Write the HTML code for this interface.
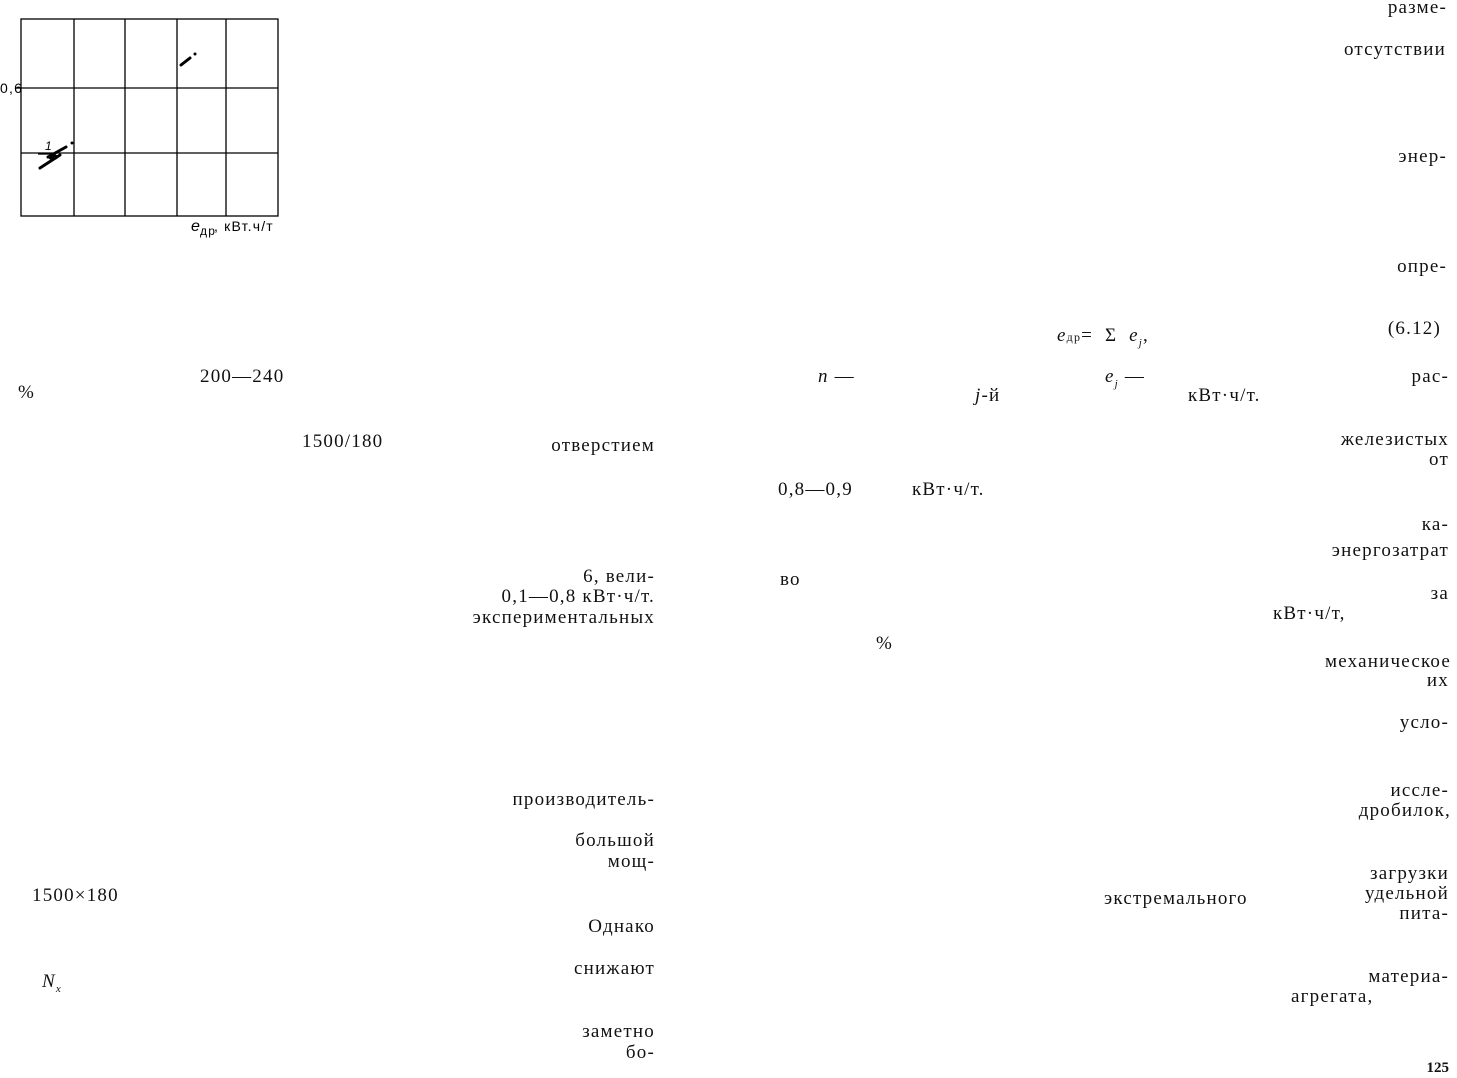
<!DOCTYPE html>
<html><head><meta charset="utf-8"><style>
html,body{margin:0;padding:0;background:#fff;}
body{width:1457px;height:1077px;position:relative;overflow:hidden;font-family:"Liberation Serif",serif;font-size:19px;letter-spacing:1.2px;color:#111;}
.t{position:absolute;white-space:nowrap;line-height:20px;}
.r{position:absolute;white-space:nowrap;line-height:20px;text-align:right;}
i{font-style:italic;}
</style></head><body>
<svg style="position:absolute;left:0;top:0" width="300" height="240">
<g stroke="#000" stroke-width="1.3" fill="none">
<rect x="21" y="19" width="257" height="197"/>
<line x1="74" y1="19" x2="74" y2="216"/><line x1="125" y1="19" x2="125" y2="216"/>
<line x1="177" y1="19" x2="177" y2="216"/><line x1="226" y1="19" x2="226" y2="216"/>
<line x1="21" y1="88" x2="278" y2="88"/><line x1="21" y1="153" x2="278" y2="153"/>
<line x1="15" y1="88" x2="21" y2="88"/>
</g>
<g stroke="#000" stroke-width="3" stroke-linecap="round">
<line x1="181" y1="65" x2="190" y2="58"/>
<line x1="40" y1="168" x2="60" y2="155"/>
<line x1="48" y1="157" x2="66" y2="147"/>
</g>
<circle cx="195" cy="54" r="1.5"/><circle cx="72" cy="143" r="1.5"/>
<ellipse cx="53" cy="157" rx="5" ry="3"/>
<line x1="38" y1="154" x2="52" y2="154" stroke="#000" stroke-width="1.3"/>
<text x="45" y="150" font-size="12" font-style="italic" font-family="Liberation Sans">1</text>
<text x="0" y="93" font-size="14" font-family="Liberation Sans">0,6</text>
<text x="191" y="231" font-size="16" font-style="italic" font-family="Liberation Sans">e</text>
<text x="200" y="235" font-size="12" font-family="Liberation Sans">др</text>
<text x="214" y="231" font-size="14" font-family="Liberation Sans">, кВт.ч/т</text>
</svg>

<div class="r" style="right:10px;top:-2px">разме-</div>
<div class="r" style="right:11px;top:40px">отсутствии</div>
<div class="r" style="right:10px;top:147px">энер-</div>
<div class="r" style="right:10px;top:257px">опре-</div>
<div class="r" style="right:16px;top:319px">(6.12)</div>
<div class="t" style="left:1057px;top:326px"><i>e</i><span style="font-size:12px">др</span>= &nbsp;Σ &nbsp;<i>e<sub style="font-size:11px">j</sub></i>,</div>
<div class="t" style="left:818px;top:367px"><i>n</i> —</div>
<div class="t" style="left:1105px;top:367px"><i>e<sub style="font-size:11px">j</sub></i> —</div>
<div class="r" style="right:8px;top:367px">рас-</div>
<div class="t" style="left:975px;top:386px"><i>j</i>-й</div>
<div class="t" style="left:1188px;top:386px">кВт·ч/т.</div>
<div class="r" style="right:8px;top:430px">железистых</div>
<div class="r" style="right:8px;top:450px">от</div>
<div class="t" style="left:778px;top:480px">0,8—0,9</div>
<div class="t" style="left:912px;top:480px">кВт·ч/т.</div>
<div class="r" style="right:8px;top:515px">ка-</div>
<div class="r" style="right:8px;top:541px">энергозатрат</div>
<div class="t" style="left:780px;top:570px">во</div>
<div class="r" style="right:8px;top:584px">за</div>
<div class="t" style="left:1273px;top:604px">кВт·ч/т,</div>
<div class="t" style="left:876px;top:634px">%</div>
<div class="r" style="right:6px;top:652px">механическое</div>
<div class="r" style="right:8px;top:671px">их</div>
<div class="r" style="right:8px;top:713px">усло-</div>
<div class="r" style="right:8px;top:781px">иссле-</div>
<div class="r" style="right:6px;top:801px">дробилок,</div>
<div class="r" style="right:8px;top:864px">загрузки</div>
<div class="r" style="right:8px;top:884px">удельной</div>
<div class="r" style="right:8px;top:904px">пита-</div>
<div class="t" style="left:1104px;top:889px">экстремального</div>
<div class="r" style="right:8px;top:967px">материа-</div>
<div class="t" style="left:1291px;top:987px">агрегата,</div>
<div class="r" style="right:8px;top:1058px;font-size:15px;font-weight:bold;letter-spacing:0">125</div>

<div class="r" style="right:802px;top:436px">отверстием</div>
<div class="r" style="right:802px;top:567px">6, вели-</div>
<div class="r" style="right:802px;top:587px">0,1—0,8 кВт·ч/т.</div>
<div class="r" style="right:802px;top:608px">экспериментальных</div>
<div class="r" style="right:802px;top:790px">производитель-</div>
<div class="r" style="right:802px;top:831px">большой</div>
<div class="r" style="right:802px;top:852px">мощ-</div>
<div class="r" style="right:802px;top:917px">Однако</div>
<div class="r" style="right:802px;top:959px">снижают</div>
<div class="r" style="right:802px;top:1022px">заметно</div>
<div class="r" style="right:802px;top:1043px">бо-</div>

<div class="t" style="left:200px;top:367px">200—240</div>
<div class="t" style="left:18px;top:383px">%</div>
<div class="t" style="left:302px;top:432px">1500/180</div>
<div class="t" style="left:32px;top:886px">1500×180</div>
<div class="t" style="left:42px;top:972px"><i>N<sub style="font-size:11px">x</sub></i></div>
</body></html>
